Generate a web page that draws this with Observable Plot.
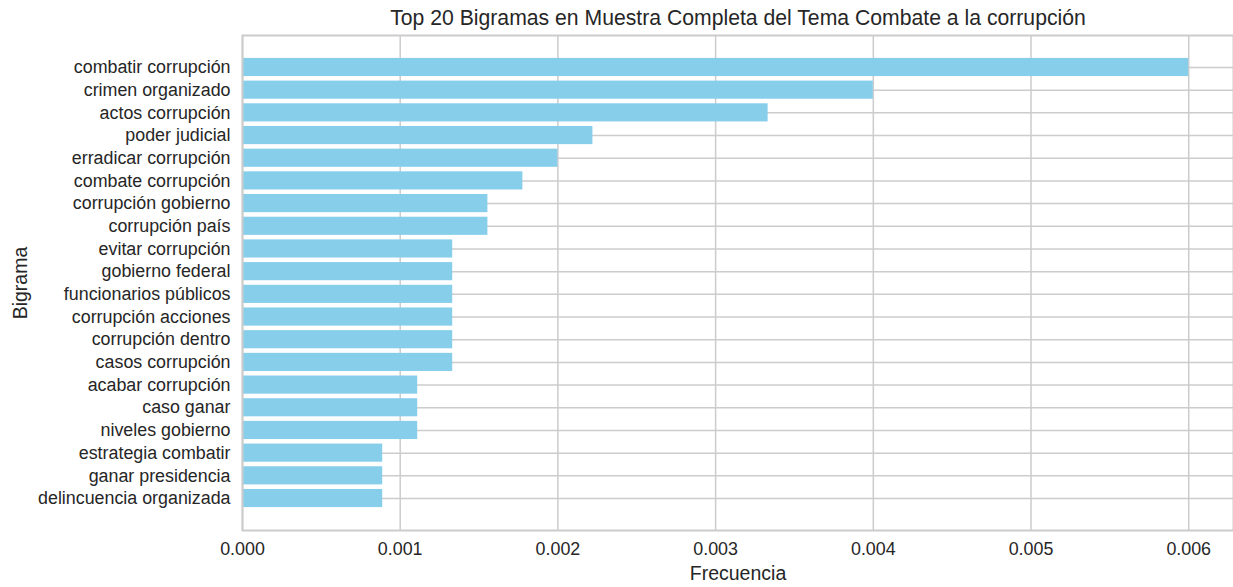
<!DOCTYPE html>
<html>
<head>
<meta charset="utf-8">
<script src="https://cdn.jsdelivr.net/npm/d3@7"></script>
<script src="https://cdn.jsdelivr.net/npm/@observablehq/plot@0.6"></script>
<style>
  html, body { margin: 0; padding: 0; background: #fff; }
  svg { display: block; }
</style>
</head>
<body>
<div id="chart"></div>
<script>
const bigramas = [
  "combatir corrupción", "crimen organizado", "actos corrupción", "poder judicial",
  "erradicar corrupción", "combate corrupción", "corrupción gobierno", "corrupción país",
  "evitar corrupción", "gobierno federal", "funcionarios públicos", "corrupción acciones",
  "corrupción dentro", "casos corrupción", "acabar corrupción", "caso ganar",
  "niveles gobierno", "estrategia combatir", "ganar presidencia", "delincuencia organizada"
];
const frecuencias = [
  0.006, 0.004, 0.003333, 0.002222,
  0.002, 0.001778, 0.001556, 0.001556,
  0.001333, 0.001333, 0.001333, 0.001333,
  0.001333, 0.001333, 0.001111, 0.001111,
  0.001111, 0.000889, 0.000889, 0.000889
];
const xTicks = [0, 0.001, 0.002, 0.003, 0.004, 0.005, 0.006];
const titulo = "Top 20 Bigramas en Muestra Completa del Tema Combate a la corrupción";

const data = bigramas.map((b, i) => ({bigrama: b, frecuencia: frecuencias[i]}));
const font = "'Liberation Sans', Arial, sans-serif";
const gridColor = "#cccccc";
const textColor = "#262626";

const chart = Plot.plot({
  width: 1233,
  height: 587,
  marginTop: 35,
  marginBottom: 57,
  marginLeft: 242,
  marginRight: 0,
  style: {fontFamily: font, fontSize: "17.85px", color: textColor, background: "#fff"},
  x: {domain: [0, 0.006284], ticks: xTicks},
  y: {domain: bigramas, paddingInner: 0.2, paddingOuter: 1.01, round: false},
  marks: [
    Plot.gridX(xTicks, {stroke: gridColor, strokeOpacity: 1, strokeWidth: 1.5}),
    Plot.gridY({stroke: gridColor, strokeOpacity: 1, strokeWidth: 1.5}),
    Plot.barX(data, {x: "frecuencia", y: "bigrama", fill: "#87CEEB"}),
    Plot.frame({stroke: gridColor, strokeWidth: 2}),
    Plot.axisX(xTicks, {tickSize: 0, tickPadding: 12, tickFormat: d3.format(".3f"), fontSize: 17.85, fill: textColor, label: null}),
    Plot.axisY({tickSize: 0, tickPadding: 12, fontSize: 17.85, fill: textColor, label: null}),
    Plot.text([titulo], {frameAnchor: "top", lineAnchor: "middle", dy: -17, fontSize: 21.2, fill: textColor}),
    Plot.text(["Frecuencia"], {frameAnchor: "bottom", lineAnchor: "middle", dy: 43, fontSize: 19.5, fill: textColor}),
    Plot.text(["Bigrama"], {frameAnchor: "left", textAnchor: "middle", lineAnchor: "middle", dx: -222, rotate: -90, fontSize: 19.5, fill: textColor})
  ]
});
document.getElementById("chart").appendChild(chart);
</script>
</body>
</html>
